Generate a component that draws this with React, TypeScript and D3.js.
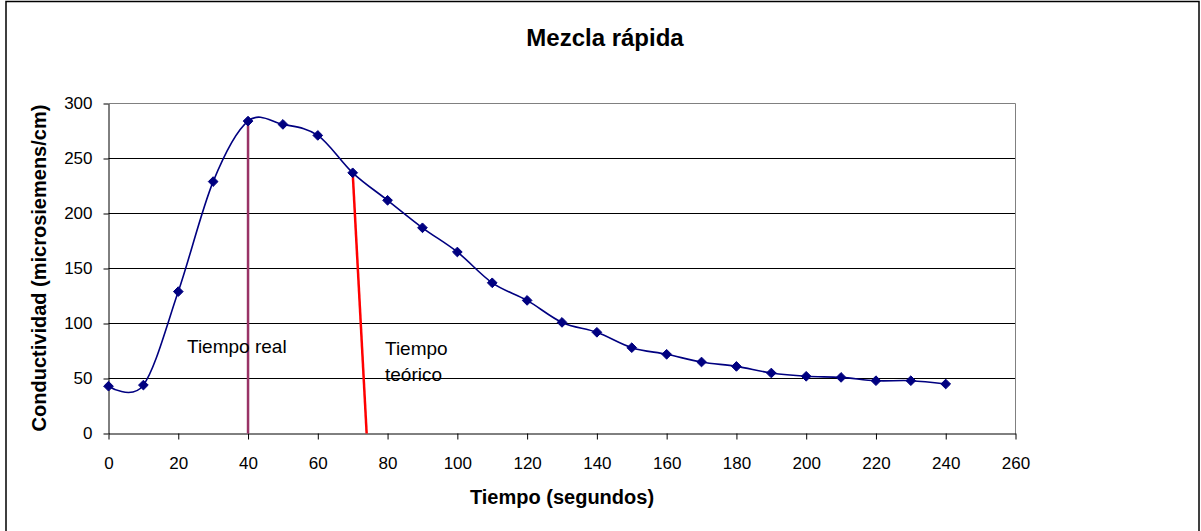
import React, { useEffect, useRef } from "react";
import * as d3 from "d3";

const tiempos = [0, 10, 20, 30, 40, 50, 60, 70, 80, 90, 100, 110, 120, 130, 140, 150, 160, 170, 180, 190, 200, 210, 220, 230, 240];
const conductividad = [43, 44, 129, 229, 284, 281, 271, 237, 212, 187, 165, 137, 121, 101, 92, 78, 72, 65, 61, 55, 52, 51, 48, 48, 45];

const lineaReal: [number, number][] = [[40, 284], [40, 0]];
const lineaTeorica: [number, number][] = [[70, 237], [74, 0]];

const xTicks = [0, 20, 40, 60, 80, 100, 120, 140, 160, 180, 200, 220, 240, 260];
const yTicks = [0, 50, 100, 150, 200, 250, 300];

const titulo = "Mezcla rápida";
const tituloX = "Tiempo (segundos)";
const tituloY = "Conductividad (microsiemens/cm)";
const etiquetaReal = "Tiempo real";
const etiquetaTeorica = ["Tiempo", "teórico"];

const W = 1201;
const H = 531;
const FONT = "Arial, 'Liberation Sans', Helvetica, sans-serif";

export default function App() {
  const ref = useRef<SVGSVGElement | null>(null);

  useEffect(() => {
    const svg = d3.select(ref.current);
    svg.selectAll("*").remove();

    const x = d3.scaleLinear().domain([0, 260]).range([108.5, 1015.5]);
    const y = d3.scaleLinear().domain([0, 300]).range([433.5, 103.5]);

    svg.append("rect").attr("width", W).attr("height", H).attr("fill", "#fff");
    // outer frame
    svg.append("rect")
      .attr("x", 6).attr("y", 1.5).attr("width", 1193).attr("height", 700)
      .attr("fill", "none").attr("stroke", "#000").attr("stroke-width", 1.5);

    // gridlines
    svg.append("g").selectAll("line")
      .data(yTicks.filter((d) => d > 0 && d < 300))
      .join("line")
      .attr("x1", x(0)).attr("x2", x(260))
      .attr("y1", (d) => y(d)).attr("y2", (d) => y(d))
      .attr("stroke", "#000").attr("stroke-width", 1);

    // plot area border (top & right)
    svg.append("path")
      .attr("d", `M${x(0)},${y(300)}H${x(260)}V${y(0)}`)
      .attr("fill", "none").attr("stroke", "#808080").attr("stroke-width", 1);

    // axes
    const gx = svg.append("g").attr("transform", `translate(0,${y(0)})`)
      .call(d3.axisBottom(x).tickValues(xTicks).tickSize(6).tickSizeOuter(0).tickPadding(17).tickFormat(d3.format("d")));
    const gy = svg.append("g").attr("transform", `translate(${x(0)},0)`)
      .call(d3.axisLeft(y).tickValues(yTicks).tickSize(5).tickSizeOuter(0).tickPadding(11).tickFormat(d3.format("d")));
    [gx, gy].forEach((g) => {
      g.selectAll("path.domain").attr("stroke", "#000").attr("stroke-width", 1);
      g.selectAll(".tick line").attr("stroke", "#000").attr("stroke-width", 1);
      g.selectAll(".tick text").attr("font-family", FONT).attr("font-size", 17).attr("fill", "#000");
    });

    // data curve
    const line = d3.line<number>()
      .x((_, i) => x(tiempos[i]))
      .y((d) => y(d))
      .curve(d3.curveCatmullRom.alpha(0));
    svg.append("path")
      .attr("d", line(conductividad))
      .attr("fill", "none").attr("stroke", "#000080").attr("stroke-width", 1.6);

    // reference lines
    const seg = d3.line<[number, number]>().x((d) => x(d[0])).y((d) => y(d[1]));
    svg.append("path").attr("d", seg(lineaReal)).attr("stroke", "#993366").attr("stroke-width", 2.5).attr("fill", "none");
    svg.append("path").attr("d", seg(lineaTeorica)).attr("stroke", "#FF0000").attr("stroke-width", 2.5).attr("fill", "none");

    // markers
    const diamond = d3.symbol().type(d3.symbolDiamond2).size(60);
    svg.append("g").selectAll("path")
      .data(conductividad)
      .join("path")
      .attr("transform", (d, i) => `translate(${x(tiempos[i])},${y(d)})`)
      .attr("d", diamond())
      .attr("fill", "#000080").attr("stroke", "#000080").attr("stroke-width", 1);

    // annotations
    svg.append("text").text(etiquetaReal)
      .attr("x", 187).attr("y", 353)
      .attr("font-family", FONT).attr("font-size", 19).attr("fill", "#000");
    svg.append("text")
      .attr("font-family", FONT).attr("font-size", 19).attr("fill", "#000")
      .selectAll("tspan").data(etiquetaTeorica).join("tspan")
      .attr("x", 385).attr("y", (_, i) => 355 + i * 26)
      .text((d) => d);

    // titles
    svg.append("text").text(titulo)
      .attr("x", 605).attr("y", 46).attr("text-anchor", "middle")
      .attr("font-family", FONT).attr("font-size", 24).attr("font-weight", "bold");
    svg.append("text").text(tituloX)
      .attr("x", 562).attr("y", 504).attr("text-anchor", "middle")
      .attr("font-family", FONT).attr("font-size", 20).attr("font-weight", "bold");
    svg.append("text").text(tituloY)
      .attr("transform", `translate(46,268) rotate(-90)`).attr("text-anchor", "middle")
      .attr("font-family", FONT).attr("font-size", 20).attr("font-weight", "bold");
  }, []);

  return (
    <svg
      ref={ref}
      width={W}
      height={H}
      style={{ position: "absolute", left: 0, top: 0, display: "block" }}
    />
  );
}
